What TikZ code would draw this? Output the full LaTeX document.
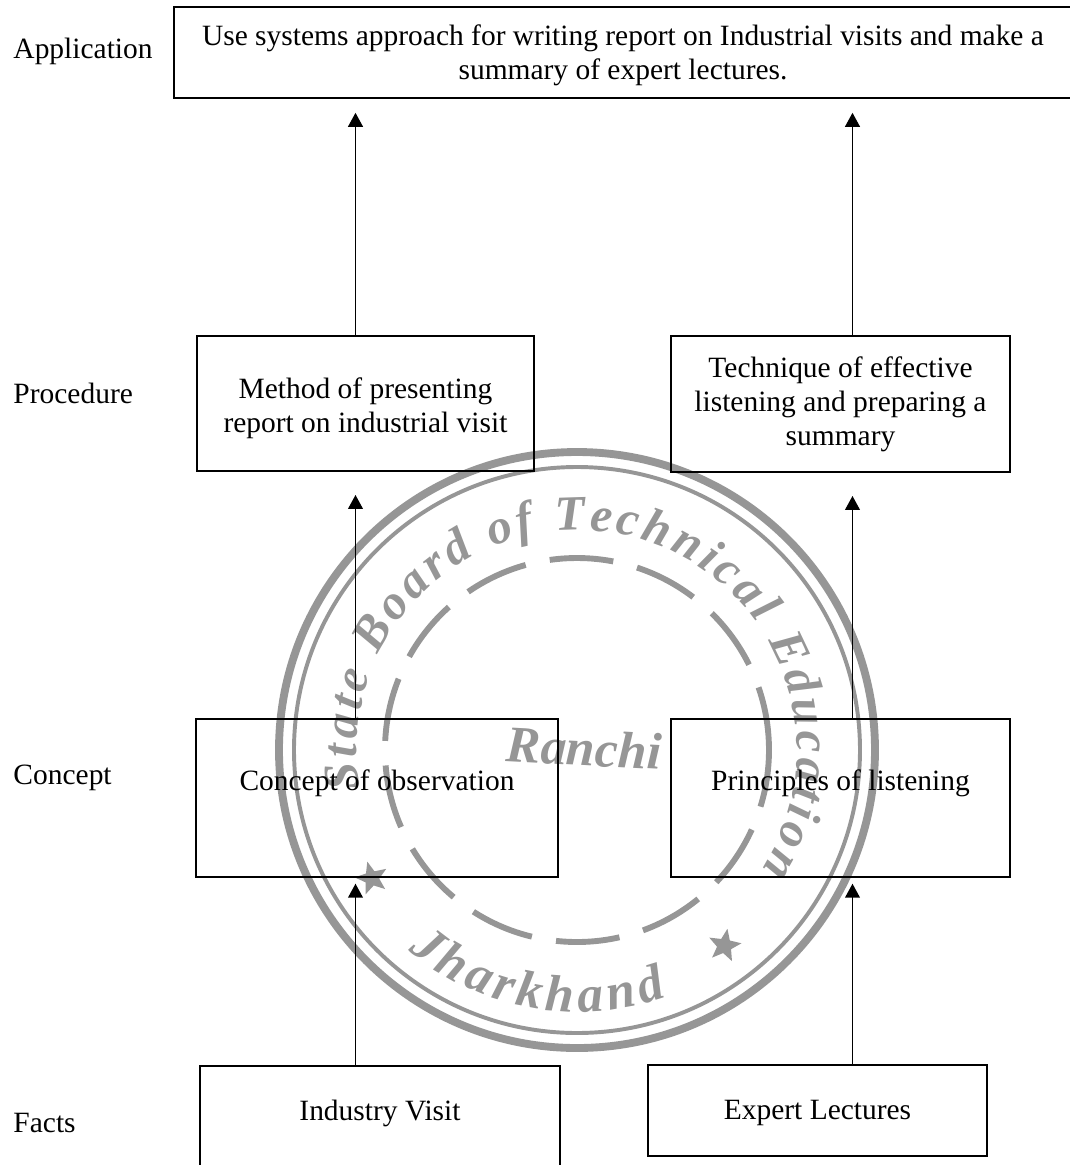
\documentclass[tikz,border=0pt]{standalone}
\usepackage{fontspec}
\setmainfont{Liberation Serif}
\usepackage{xcolor}
\usepackage{tikz}
\usetikzlibrary{shapes.geometric, arrows.meta, decorations.text, positioning}
\definecolor{stampgray}{RGB}{150,150,150}
\newcommand{\ringfont}{\color{stampgray}\bfseries\itshape\fontsize{20}{20}\selectfont}
\newcommand{\cityfont}{\color{stampgray}\bfseries\itshape\fontsize{21}{21}\selectfont}
\tikzstyle{level} = [anchor=base west, inner sep=0pt]
\tikzstyle{process} = [rectangle, draw=black, line width=0.7pt, inner sep=0pt, align=center]
\tikzstyle{arrow} = [line width=0.7pt, -{Triangle[length=5.7pt, width=6pt]}]
\tikzstyle{ring} = [draw=stampgray]
\tikzstyle{starmark} = [star, star point ratio=2.3, fill=stampgray, minimum size=14pt, inner sep=0pt]

\begin{document}
\begin{tikzpicture}[x=0.4073pt, y=-0.4073pt, font=\fontsize{12}{13.85}\selectfont]
  \useasboundingbox (0,0) rectangle (1070,1165);
  \clip (0,0) rectangle (1070,1165);

  % stamp behind the chart
  \begin{scope}[shift={(577,750)}, y=0.4073pt]
    \draw[ring, line width=3.2pt] (0,0) circle[radius=298];
    \draw[ring, line width=1.6pt] (0,0) circle[radius=283];
    \draw[ring, line width=2.4pt, dash pattern=on 26pt off 10pt] (0,0) circle[radius=192];
    \path[decorate, decoration={text along path, text align={fit to path}, text={|\ringfont|State Board of Technical Education}}]
      (190:220) arc[start angle=190, end angle=-33, radius=220];
    \path[decorate, decoration={text along path, text align={fit to path}, text={|\cityfont|Jharkhand}}]
      (230:262) arc[start angle=230, end angle=290, radius=262];
    \node (city) [rotate=-3, text=stampgray, font=\bfseries\itshape\fontsize{21}{21}\selectfont] at (7,2) {Ranchi};
    \node (star1) [starmark, rotate=15] at (212:242) {};
    \node (star2) [starmark, rotate=-10] at (307:245) {};
  \end{scope}

  % levels
  \node (lapp) [level] at (13,58) {Application};
  \node (lproc) [level] at (13,403) {Procedure};
  \node (lconc) [level] at (13,784) {Concept};
  \node (lfact) [level] at (13,1132) {Facts};

  % boxes
  \node (app) [process, minimum width=365.8pt, text height=29.3pt, text depth=7.7pt] at (623,52.5) {Use systems approach for writing report on Industrial visits and make a\\ summary of expert lectures.};
  \node (proc1) [process, minimum width=137.3pt, text height=39.5pt, text depth=15.5pt] at (365.5,403.5) {Method of presenting\\ report on industrial visit};
  \node (proc2) [process, minimum width=138.1pt, minimum height=55.4pt] at (840.5,404) {Technique of effective\\ listening and preparing a\\ summary};
  \node (conc1) [process, minimum width=147.4pt, text height=28.9pt, text depth=35.4pt] at (377,798) {Concept of observation};
  \node (conc2) [process, minimum width=138.1pt, text height=28.9pt, text depth=35.4pt] at (840.5,798) {Principles of listening};
  \node (fact1) [process, minimum width=146.6pt, text height=22pt, text depth=32.6pt] at (380,1133) {Industry Visit};
  \node (fact2) [process, minimum width=138.1pt, text height=22.4pt, text depth=14.7pt] at (817.5,1110.5) {Expert Lectures};

  \coordinate (lcol) at (355.5,0);
  \coordinate (rcol) at (852.5,0);

  \draw[arrow, shorten >=5.7pt] (proc1.north -| lcol) -- (app.south -| lcol);
  \draw[arrow, shorten >=5.7pt] (proc2.north -| rcol) -- (app.south -| rcol);
  \draw[arrow, shorten >=9.4pt] (conc1.north -| lcol) -- (proc1.south -| lcol);
  \draw[arrow, shorten >=9.4pt] (conc2.north -| rcol) -- (proc2.south -| rcol);
  \draw[arrow, shorten >=2.4pt] (fact1.north -| lcol) -- (conc1.south -| lcol);
  \draw[arrow, shorten >=2.4pt] (fact2.north -| rcol) -- (conc2.south -| rcol);
\end{tikzpicture}
\end{document}
